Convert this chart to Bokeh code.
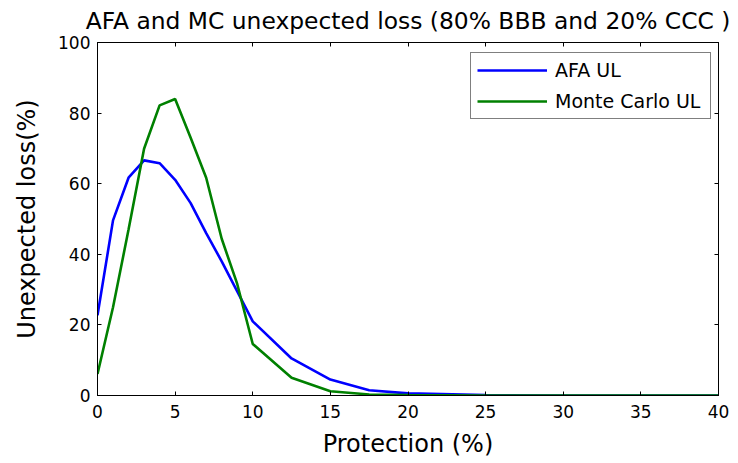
from bokeh.plotting import figure
from bokeh.models import (LinearAxis, FixedTicker, Legend, LegendItem, Range1d,
                          ColumnDataSource, CustomLabelingPolicy)
from bokeh.embed import file_html
from bokeh.resources import INLINE

# Data
protection = [0, 1, 2, 3, 4, 5, 6, 7, 8, 9, 10, 12.5, 15, 17.5, 20, 25, 30, 35, 40]
afa_ul = [22.7, 49.6, 61.7, 66.6, 65.8, 61.1, 54.5, 46.0, 38.0, 29.5, 21.0, 10.5, 4.5, 1.5, 0.6, 0.1, 0.0, 0.0, 0.0]
mc_ul = [6.1, 25.0, 47.0, 69.9, 82.2, 84.0, 73.0, 61.7, 44.4, 31.6, 14.6, 5.0, 1.2, 0.3, 0.1, 0.0, 0.0, 0.0, 0.0]

x_ticks = [0, 5, 10, 15, 20, 25, 30, 35, 40]
y_ticks = [0, 20, 40, 60, 80, 100]

title_text = "AFA and MC unexpected loss (80% BBB and 20% CCC )"
x_label = "Protection (%)"
y_label = "Unexpected loss(%)"
series_names = ["AFA UL", "Monte Carlo UL"]
series_colors = ["#0000FF", "#008000"]

FONT = "DejaVu Sans"

src = ColumnDataSource(dict(x=protection, afa=afa_ul, mc=mc_ul))

p = figure(width=738, height=463, output_backend="svg", toolbar_location=None,
           x_range=Range1d(0, 40), y_range=Range1d(0, 100),
           min_border_left=97, min_border_right=20, min_border_top=42, min_border_bottom=68,
           x_axis_type=None, y_axis_type=None)

p.title.text = title_text
p.title.align = "center"
p.title.vertical_align = "top"
p.title.text_font = FONT
p.title.text_font_size = "23.4px"
p.title.text_font_style = "normal"
p.title.text_color = "black"
p.title.standoff = 4

p.xgrid.grid_line_color = None
p.ygrid.grid_line_color = None
p.outline_line_color = "black"
p.outline_line_width = 1
p.background_fill_color = "white"
p.border_fill_color = "white"

hide_all = CustomLabelingPolicy(code="""
const all = [...indices];
for (const i of all) indices.unset(i);
return indices;
""")

def make_axis(ticks, labels=True):
    ax = LinearAxis(ticker=FixedTicker(ticks=ticks))
    ax.major_tick_in = 4
    ax.major_tick_out = 0
    ax.minor_tick_line_color = None
    ax.axis_line_color = "black"
    ax.major_tick_line_color = "black"
    if labels:
        ax.major_label_text_font = FONT
        ax.major_label_text_font_size = "17px"
        ax.major_label_text_color = "black"
    else:
        ax.major_label_policy = hide_all
        ax.major_label_text_font_size = "1px"
        ax.major_label_standoff = 0
    return ax

xb = make_axis(x_ticks)
xb.axis_label = x_label
xb.axis_label_text_font = FONT
xb.axis_label_text_font_size = "24px"
xb.axis_label_text_font_style = "normal"
xb.axis_label_text_color = "black"
xb.major_label_standoff = 9
xb.axis_label_standoff = 9
p.add_layout(xb, "below")

yl = make_axis(y_ticks)
yl.axis_label = y_label
yl.axis_label_text_font = FONT
yl.axis_label_text_font_size = "24px"
yl.axis_label_text_font_style = "normal"
yl.axis_label_text_color = "black"
yl.major_label_standoff = 7
yl.axis_label_standoff = 14
p.add_layout(yl, "left")

xt = make_axis(x_ticks, labels=False)
p.add_layout(xt, "above")
yr = make_axis(y_ticks, labels=False)
p.add_layout(yr, "right")

r1 = p.line("x", "afa", source=src, line_color=series_colors[0], line_width=2.6)
r2 = p.line("x", "mc", source=src, line_color=series_colors[1], line_width=2.6)

legend = Legend(items=[LegendItem(label=series_names[0], renderers=[r1]),
                       LegendItem(label=series_names[1], renderers=[r2])],
                location=(373, 276))
legend.border_line_color = "black"
legend.border_line_width = 1
legend.background_fill_color = "white"
legend.background_fill_alpha = 1
legend.label_text_font = FONT
legend.label_text_font_size = "19px"
legend.label_text_color = "black"
legend.glyph_width = 70
legend.glyph_height = 22
legend.label_height = 22
legend.label_standoff = 8
legend.label_width = 149
legend.padding = 6
legend.spacing = 9
legend.margin = 0
p.add_layout(legend, "center")

open("out.html", "w").write(file_html(p, INLINE))
